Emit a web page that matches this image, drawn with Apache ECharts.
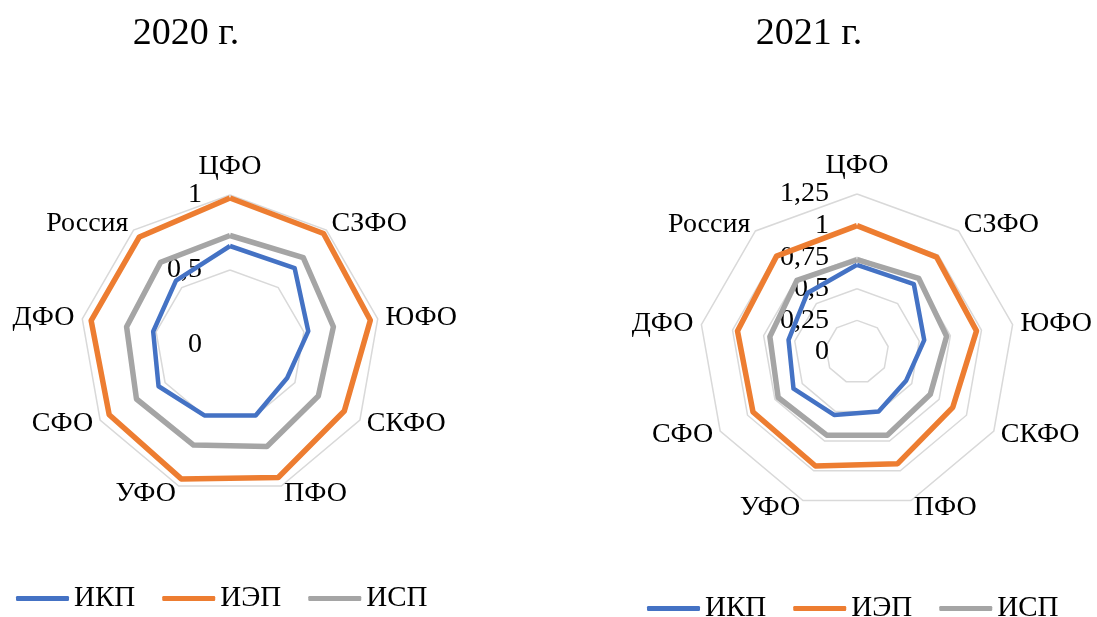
<!DOCTYPE html>
<html><head><meta charset="utf-8">
<script src="https://cdn.jsdelivr.net/npm/echarts@6/dist/echarts.min.js"></script>
<style>html,body{margin:0;padding:0;background:#fff}#c{width:1097px;height:617px}</style>
</head><body><div id="c"></div>
<script>
const categories = ['ЦФО','СЗФО','ЮФО','СКФО','ПФО','УФО','СФО','ДФО','Россия'];
const seriesNames = ['ИКП','ИЭП','ИСП'];
const titles = ['2020 г.','2021 г.'];
// 2020
const ikp2020 = [0.66,0.67,0.53,0.44,0.50,0.50,0.55,0.52,0.56];
const iep2020 = [0.98,0.97,0.95,0.88,0.94,0.95,0.93,0.94,0.94];
const isp2020 = [0.73,0.76,0.70,0.68,0.72,0.71,0.72,0.70,0.72];
// 2021
const ikp2021 = [0.69,0.70,0.54,0.45,0.50,0.53,0.58,0.55,0.61];
const iep2021 = [1.00,0.98,0.96,0.875,0.94,0.96,0.95,0.96,0.99];
const isp2021 = [0.73,0.76,0.72,0.67,0.70,0.70,0.72,0.70,0.74];
const max2020 = 1, split2020 = 2;
const max2021 = 1.25, split2021 = 5;

const colors = ['#4472C4','#ED7D31','#A5A5A5'];
const FONT = '"Liberation Serif","Times New Roman",serif';
// ECharts radar runs counter-clockwise; reorder so categories go clockwise
const order = [0,8,7,6,5,4,3,2,1];
const reorder = a => order.map(i => a[i]);

function radar(center, radius, max, split) {
  return {
    center: center, radius: radius, shape: 'polygon', startAngle: 90,
    splitNumber: split,
    indicator: reorder(categories).map((n, k) => ({
      name: n, min: 0, max: max,
      axisLabel: k === 0 ? {show: true} : {show: false}
    })),
    axisName: {color: '#000', fontFamily: FONT, fontSize: 28, lineHeight: 16, padding: [6, 0, 0, 0]},
    nameGap: 8,
    axisLine: {show: false},
    axisTick: {show: false},
    axisLabel: {show: false, color: '#000', fontFamily: FONT, fontSize: 28, margin: 28,
      formatter: v => String(v).replace('.', ',')},
    splitLine: {lineStyle: {color: '#d9d9d9', width: 1.5}},
    splitArea: {show: false}
  };
}

const data2020 = [ikp2020, iep2020, isp2020];
const data2021 = [ikp2021, iep2021, isp2021];
const series = [];
[data2020, data2021].forEach((set, ri) => {
  set.forEach((vals, si) => {
    series.push({
      type: 'radar', radarIndex: ri, name: seriesNames[si],
      symbol: 'none', z: 2 + si,
      lineStyle: {color: colors[si], width: si === 0 ? 4.5 : 5.5},
      itemStyle: {color: colors[si]},
      data: [{value: reorder(vals), name: seriesNames[si]}]
    });
  });
});

const legendBase = {
  data: seriesNames, icon: 'roundRect', itemWidth: 53, itemHeight: 5, itemGap: 27,
  textStyle: {fontFamily: FONT, fontSize: 29, color: '#000'}, selectedMode: false
};

const chart = echarts.init(document.getElementById('c'), null, {renderer: 'canvas'});
chart.setOption({
  animation: false,
  color: colors,
  title: [
    {text: titles[0], left: 181, top: 10, textAlign: 'center', textStyle: {fontFamily: FONT, fontSize: 38, fontWeight: 'normal', color: '#000'}},
    {text: titles[1], left: 804, top: 10, textAlign: 'center', textStyle: {fontFamily: FONT, fontSize: 38, fontWeight: 'normal', color: '#000'}}
  ],
  legend: [
    Object.assign({left: 11, top: 579}, legendBase),
    Object.assign({left: 642, top: 589}, legendBase)
  ],
  radar: [
    radar([230, 345], 150, max2020, split2020),
    radar([857, 352], 158, max2021, split2021)
  ],
  series: series
});
</script></body></html>
